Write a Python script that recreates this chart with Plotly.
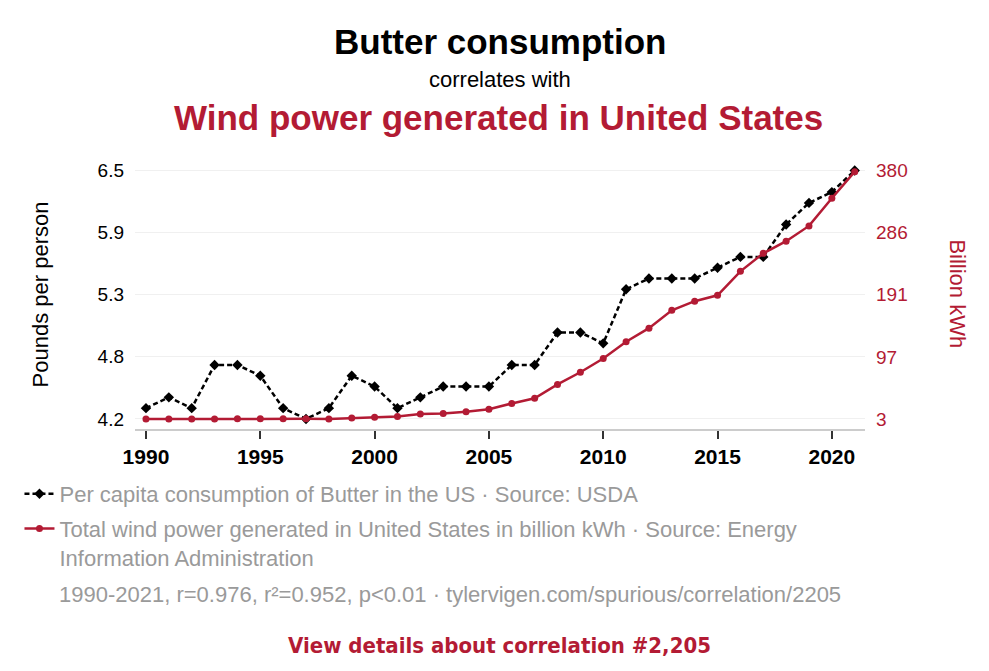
import plotly.graph_objects as go

years = list(range(1990, 2022))

butter = [4.3, 4.4, 4.3, 4.7, 4.7, 4.6, 4.3, 4.2, 4.3, 4.6,
          4.5, 4.3, 4.4, 4.5, 4.5, 4.5, 4.7, 4.7, 5.0, 5.0,
          4.9, 5.4, 5.5, 5.5, 5.5, 5.6, 5.7, 5.7, 6.0, 6.2,
          6.3, 6.5]

wind = [2.8, 3.0, 2.9, 3.0, 3.4, 3.2, 3.2, 3.3, 3.0, 4.5,
        5.6, 6.7, 10.4, 11.2, 14.1, 17.8, 26.6, 34.5, 55.4, 73.9,
        94.7, 120.2, 140.8, 167.8, 181.7, 190.7, 227.0, 254.3, 272.7, 295.9,
        337.9, 378.2]

left_tickvals = [4.2, 4.775, 5.35, 5.925, 6.5]
left_ticktext = ["4.2", "4.8", "5.3", "5.9", "6.5"]
right_tickvals = [3, 97.25, 191.5, 285.75, 380]
right_ticktext = ["3", "97", "191", "286", "380"]
x_ticks = [1990, 1995, 2000, 2005, 2010, 2015, 2020]

RED = "#b31b34"
GRAY = "#9a9a9a"
FONT = "Liberation Sans, Arial, sans-serif"

W, H = 989, 671
OFF = 8  # page body margin
L, T = 132 - OFF, 160 - OFF
PW, PH = 733, 269
R, B = W - L - PW, H - T - PH


def px(x, y):
    # screen pixel -> paper coords
    return (x - OFF - L) / PW, (H - B - (y - OFF)) / PH


fig = go.Figure()

fig.add_trace(go.Scatter(
    x=years, y=wind, yaxis="y2",
    mode="lines+markers",
    name="Total wind power generated in United States in billion kWh · Source: Energy<br>Information Administration",
    line=dict(color=RED, width=2.5),
    marker=dict(symbol="circle", size=7, color=RED),
    legendrank=2, legendgroup="b",
))

fig.add_trace(go.Scatter(
    x=years, y=butter,
    mode="lines+markers",
    name="Per capita consumption of Butter in the US · Source: USDA",
    line=dict(color="black", width=2.5, dash="5px,3px"),
    marker=dict(symbol="diamond", size=8, color="black"),
    legendrank=1, legendgroup="a",
))

lx, ly = px(16, 473)

fig.update_layout(
    width=W, height=H,
    margin=dict(l=L, r=R, t=T, b=B),
    paper_bgcolor="white", plot_bgcolor="white",
    font=dict(family=FONT, size=18, color="black"),
    showlegend=True,
    legend=dict(
        x=lx, xanchor="left", y=ly, yanchor="top",
        orientation="v", traceorder="grouped",
        font=dict(size=22, color=GRAY),
        itemwidth=30, valign="top",
        tracegroupgap=3,
    ),
    xaxis=dict(
        range=[1989.52, 2021.45],
        tickvals=x_ticks,
        tickfont=dict(size=21, color="black", family=FONT, weight="bold"),
        showgrid=False, zeroline=False,
        showline=True, linecolor="#cccccc", linewidth=1.5,
        ticks="outside", ticklen=8, tickcolor="#333333", tickwidth=1.5,
    ),
    yaxis=dict(
        range=[4.107, 6.597],
        tickvals=left_tickvals, ticktext=left_ticktext,
        tickfont=dict(size=19, color="black"),
        ticklabelstandoff=10,
        showgrid=True, gridcolor="#f0f0f0", gridwidth=1,
        zeroline=False, showline=False, ticks="",
    ),
    yaxis2=dict(
        overlaying="y", side="right",
        range=[-12.2, 395.9],
        tickvals=right_tickvals, ticktext=right_ticktext,
        tickfont=dict(size=19, color=RED),
        ticklabelstandoff=10,
        showgrid=False, zeroline=False, showline=False, ticks="",
    ),
)

ann = [
    # text, screen x, screen y, anchor, font, angle
    ("<b>Butter consumption</b>", 499, 42, "center", dict(size=35, color="black"), 0),
    ("correlates with", 499, 80, "center", dict(size=22, color="black"), 0),
    ("<b>Wind power generated in United States</b>", 497, 118, "center", dict(size=35, color=RED), 0),
    ("Pounds per person", 37, 294, "center", dict(size=22, color="black"), -90),
    ("Billion kWh", 958, 294, "center", dict(size=22, color=RED), 90),
    ("1990-2021, r=0.976, r²=0.952, p<0.01 · tylervigen.com/spurious/correlation/2205",
     54, 594, "left", dict(size=22, color=GRAY), 0),
    ("<b>View details about correlation #2,205</b>", 498, 645, "center",
     dict(size=22, color=RED, family="Liberation Sans Narrow, DejaVu Sans Condensed, sans-serif"), 0),
]
for text, x, y, anchor, font, angle in ann:
    ax, ay = px(x, y)
    fig.add_annotation(text=text, x=ax, y=ay, xref="paper", yref="paper",
                       xanchor=anchor, yanchor="middle", showarrow=False,
                       font=font, textangle=angle)

fig.write_html("out.html")
